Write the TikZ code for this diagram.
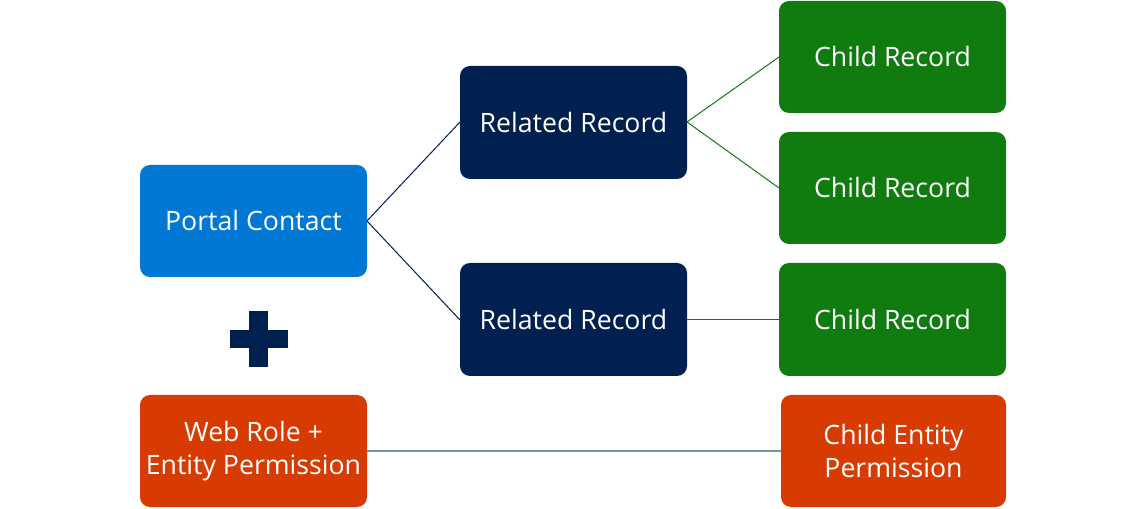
\documentclass[tikz,border=0pt]{standalone}
\usepackage{fontspec}
\setmainfont{Open Sans}
\definecolor{cblue}{HTML}{0078D4}
\definecolor{cnavy}{HTML}{002050}
\definecolor{cgreen}{HTML}{107C10}
\definecolor{corange}{HTML}{D83B01}
\definecolor{cgrey}{HTML}{7F8FA6}
\begin{document}
\begin{tikzpicture}[x=0.75pt,y=-0.75pt,
  box/.style={rounded corners=7.5pt, text=white, font=\fontsize{20}{25}\selectfont, align=center, inner sep=0pt},
  navyline/.style={draw=cnavy, line width=0.75pt},
  greenline/.style={draw=cgreen, line width=0.75pt},
  greyline/.style={draw=cgrey, line width=1.2pt}]
\useasboundingbox (0,0) rectangle (1146,509);
\fill[white] (0,0) rectangle (1146,509);
% boxes
\path[box, fill=cblue] (140,165) rectangle (367,277) node[midway] (pc) {Portal Contact};
\path[box, fill=cnavy] (460,66) rectangle (687,179) node[midway] (rr1) {Related Record};
\path[box, fill=cnavy] (460,263) rectangle (687,376) node[midway] (rr2) {Related Record};
\path[box, fill=cgreen] (779,1) rectangle (1006,113) node[midway] (c1) {Child Record};
\path[box, fill=cgreen] (779,132) rectangle (1006,244) node[midway] (c2) {Child Record};
\path[box, fill=cgreen] (779,263) rectangle (1006,376) node[midway] (c3) {Child Record};
\path[box, fill=corange] (140,395) rectangle (367,507) node[midway] (wr) {Web Role +\\Entity Permission};
\path[box, fill=corange] (781,395) rectangle (1006,507) node[midway] (cep) {Child Entity\\Permission};
% anchor coordinates
\coordinate (pcR) at (367,221);
\coordinate (rr1L) at (460,122);
\coordinate (rr2L) at (460,320);
\coordinate (rr1R) at (687,122);
\coordinate (rr2R) at (687,320);
\coordinate (c1L) at (779,57);
\coordinate (c2L) at (779,188);
\coordinate (c3L) at (779,320);
\coordinate (wrR) at (367,451);
\coordinate (cepL) at (781,451);
\draw[navyline] (pcR) -- (rr1L);
\draw[navyline] (pcR) -- (rr2L);
\draw[greenline] (rr1R) -- (c1L);
\draw[greenline] (rr1R) -- (c2L);
\draw[greenline] (rr2R) -- (c3L);
\draw[greyline] (wrR) -- (cepL);
% plus sign
\fill[cnavy] (230,330) rectangle (288,348);
\fill[cnavy] (249,311) rectangle (268,367);
\end{tikzpicture}
\end{document}
